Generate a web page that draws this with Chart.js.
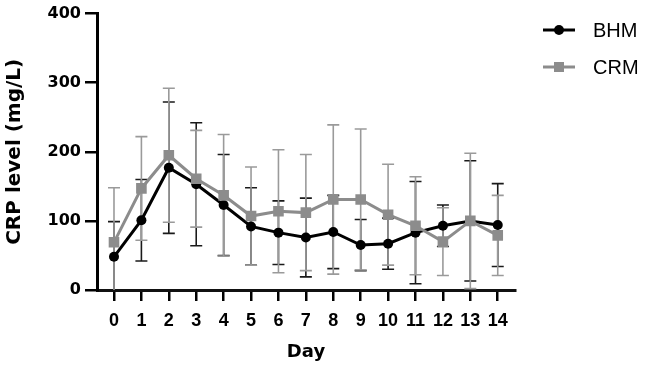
<!DOCTYPE html>
<html>
<head>
<meta charset="utf-8">
<script src="https://cdn.jsdelivr.net/npm/chart.js"></script>
<style>
  html, body { margin: 0; padding: 0; background: #fff; }
  #wrap { width: 645px; height: 368px; }
</style>
</head>
<body>
<div id="wrap"><canvas id="chart" width="645" height="368"></canvas></div>
<script>
// values (mean and SD per day)
const days = [0, 1, 2, 3, 4, 5, 6, 7, 8, 9, 10, 11, 12, 13, 14];
const bhmMean = [48, 101, 177, 153, 123, 92, 83, 76, 84, 65, 67, 83, 93, 100, 94];
const bhmSD = [51, 59, 95, 89, 73, 56, 46, 57, 53, 37, 37, 74, 30, 87, 60];
const crmMean = [69, 147, 195, 161, 137, 107, 114, 112, 131, 131, 109, 93, 70, 100, 79];
const crmSD = [79, 75, 97, 70, 88, 71, 89, 84, 108, 102, 73, 71, 49, 98, 58];
const yTicks = [0, 100, 200, 300, 400];

const BLACK = '#000000';
const GREY = '#8c8c8c';
const GREY_ERR = '#9a9a9a';

const toPoints = (means) => days.map((d, i) => ({ x: d, y: means[i] }));

// error bars, drawn under the lines
const errorBars = {
  id: 'errorBars',
  beforeDatasetsDraw(chart) {
    const { ctx, chartArea, scales } = chart;
    const series = [
      { mean: bhmMean, sd: bhmSD, color: '#1a1a1a' },
      { mean: crmMean, sd: crmSD, color: GREY_ERR }
    ];
    ctx.save();
    ctx.beginPath();
    ctx.rect(chartArea.left, chartArea.top - 5, chartArea.right - chartArea.left, chartArea.bottom - chartArea.top + 5);
    ctx.clip();
    series.forEach(s => {
      ctx.strokeStyle = s.color;
      ctx.lineWidth = 1.6;
      days.forEach((d, i) => {
        const x = scales.x.getPixelForValue(d);
        const hi = scales.y.getPixelForValue(s.mean[i] + s.sd[i]);
        const lo = scales.y.getPixelForValue(Math.max(s.mean[i] - s.sd[i], -10));
        ctx.beginPath();
        ctx.moveTo(x, hi);
        ctx.lineTo(x, lo);
        ctx.moveTo(x - 6, hi);
        ctx.lineTo(x + 6, hi);
        if (s.mean[i] - s.sd[i] > 0) {
          ctx.moveTo(x - 6, lo);
          ctx.lineTo(x + 6, lo);
        }
        ctx.stroke();
      });
    });
    ctx.restore();
  }
};

// legend with line + marker symbols
const sideLegend = {
  id: 'sideLegend',
  afterDraw(chart) {
    const ctx = chart.ctx;
    const items = [
      { label: 'BHM', color: BLACK, style: 'circle', y: 30 },
      { label: 'CRM', color: GREY, style: 'rect', y: 67 }
    ];
    ctx.save();
    items.forEach(it => {
      ctx.strokeStyle = it.color;
      ctx.fillStyle = it.color;
      ctx.lineWidth = 3;
      ctx.beginPath();
      ctx.moveTo(543, it.y);
      ctx.lineTo(575, it.y);
      ctx.stroke();
      if (it.style === 'circle') {
        ctx.beginPath();
        ctx.arc(559, it.y, 5, 0, Math.PI * 2);
        ctx.fill();
      } else {
        ctx.fillRect(554, it.y - 5, 10, 10);
      }
      ctx.fillStyle = '#000';
      ctx.font = '20px "Liberation Sans", Arial, sans-serif';
      ctx.textBaseline = 'middle';
      ctx.textAlign = 'left';
      ctx.fillText(it.label, 593, it.y + 1);
    });
    ctx.restore();
  }
};

new Chart(document.getElementById('chart'), {
  type: 'line',
  data: {
    datasets: [
      {
        label: 'BHM',
        data: toPoints(bhmMean),
        borderColor: BLACK,
        backgroundColor: BLACK,
        borderWidth: 3,
        pointStyle: 'circle',
        pointRadius: 5,
        pointBorderWidth: 0,
        tension: 0,
        order: 1
      },
      {
        label: 'CRM',
        data: toPoints(crmMean),
        borderColor: GREY,
        backgroundColor: GREY,
        borderWidth: 3,
        pointStyle: 'rect',
        pointRadius: 7.5,
        pointBorderWidth: 0,
        tension: 0,
        order: 0
      }
    ]
  },
  options: {
    responsive: false,
    animation: false,
    events: [],
    layout: { padding: { left: 0, right: 130, top: 11, bottom: 0 } },
    plugins: {
      legend: { display: false },
      tooltip: { enabled: false }
    },
    scales: {
      x: {
        type: 'linear',
        min: -0.62,
        max: 14.63,
        afterFit: (scale) => { scale.height = 78; },
        border: { display: true, color: '#111', width: 3, dash: [3, 1] },
        grid: { drawOnChartArea: false, drawTicks: true, tickLength: 11, color: '#000', lineWidth: 2.5 },
        ticks: {
          stepSize: 1,
          includeBounds: false,
          autoSkip: false,
          maxRotation: 0,
          padding: 9,
          color: '#000',
          font: { family: '"Liberation Sans", Arial, sans-serif', size: 18, weight: 'bold' }
        },
        title: {
          display: true,
          text: 'Day',
          color: '#000',
          padding: { top: 0, bottom: 5 },
          font: { family: '"DejaVu Sans", sans-serif', size: 18, weight: 'bold' }
        }
      },
      y: {
        min: 0,
        max: 400,
        afterFit: (scale) => { scale.width = 97; },
        afterBuildTicks: (scale) => { scale.ticks = yTicks.map(v => ({ value: v })); },
        border: { display: true, color: '#000', width: 3 },
        grid: { drawOnChartArea: false, drawTicks: true, tickLength: 12, color: '#000', lineWidth: 2.5 },
        ticks: {
          padding: 4,
          color: '#000',
          font: { family: '"DejaVu Sans", sans-serif', size: 16, weight: 'bold' }
        },
        title: {
          display: true,
          text: 'CRP level (mg/L)',
          color: '#000',
          padding: { top: 3, bottom: 0 },
          font: { family: '"DejaVu Sans", sans-serif', size: 20, weight: 'bold' }
        }
      }
    }
  },
  plugins: [errorBars, sideLegend]
});
</script>
</body>
</html>
